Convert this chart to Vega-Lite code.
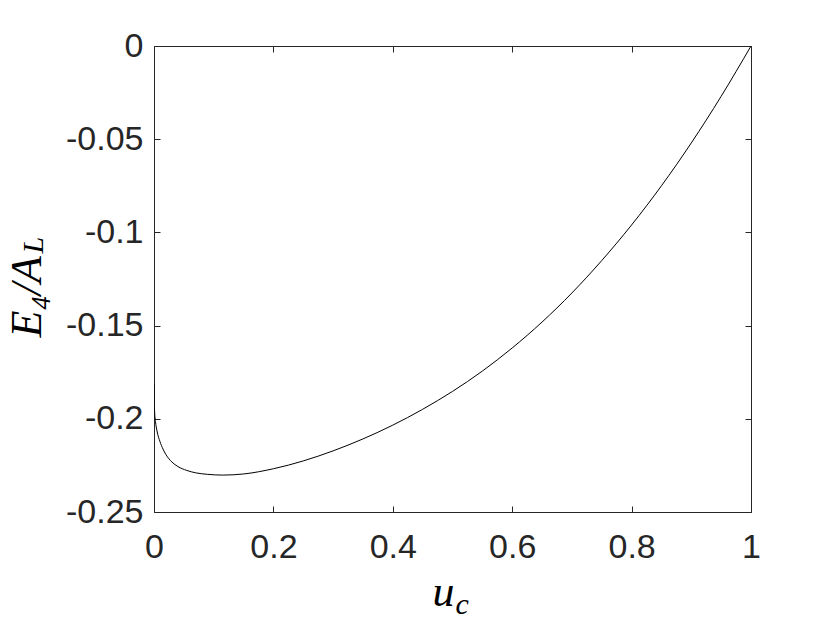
{
  "$schema": "https://vega.github.io/schema/vega-lite/v6.json",
  "autosize": {"type": "none"},
  "width": 597,
  "height": 466,
  "padding": {"left": 154, "top": 46, "right": 79, "bottom": 111},
  "background": "white",
  "config": {
    "view": {"stroke": null},
    "axis": {
      "grid": false,
      "domainColor": "#262626",
      "domainWidth": 1,
      "tickColor": "#262626",
      "tickWidth": 1,
      "tickSize": -6,
      "labelFont": "Liberation Sans",
      "labelFontSize": 34,
      "labelColor": "#262626",
      "titleFont": "Liberation Serif",
      "titleFontStyle": "italic",
      "titleFontWeight": "normal",
      "titleColor": "#000000"
    }
  },
  "data": {
    "values": [
      {"u": 0, "e": -0.181},
      {"u": 0.0003, "e": -0.190},
      {"u": 0.001, "e": -0.196},
      {"u": 0.0025, "e": -0.2015},
      {"u": 0.005, "e": -0.2065},
      {"u": 0.01, "e": -0.2122},
      {"u": 0.015, "e": -0.2162},
      {"u": 0.02, "e": -0.2192},
      {"u": 0.03, "e": -0.2232},
      {"u": 0.04, "e": -0.2256},
      {"u": 0.055, "e": -0.2277},
      {"u": 0.07, "e": -0.2290},
      {"u": 0.09, "e": -0.2298},
      {"u": 0.115, "e": -0.2302},
      {"u": 0.15, "e": -0.2296},
      {"u": 0.2, "e": -0.2268},
      {"u": 0.25, "e": -0.2226},
      {"u": 0.3, "e": -0.2172},
      {"u": 0.35, "e": -0.2108},
      {"u": 0.4, "e": -0.2034},
      {"u": 0.45, "e": -0.1949},
      {"u": 0.5, "e": -0.1853},
      {"u": 0.55, "e": -0.1744},
      {"u": 0.6, "e": -0.1620},
      {"u": 0.65, "e": -0.1481},
      {"u": 0.7, "e": -0.1325},
      {"u": 0.75, "e": -0.1151},
      {"u": 0.8, "e": -0.0960},
      {"u": 0.85, "e": -0.0750},
      {"u": 0.9, "e": -0.0520},
      {"u": 0.95, "e": -0.0270},
      {"u": 1.0, "e": 0}
    ]
  },
  "layer": [
    {
      "mark": {"type": "line", "color": "#000000", "strokeWidth": 1, "clip": true, "interpolate": "monotone"},
      "encoding": {
        "x": {
          "field": "u", "type": "quantitative",
          "scale": {"domain": [0, 1], "nice": false, "zero": false},
          "axis": {
            "orient": "bottom",
            "values": [0, 0.2, 0.4, 0.6, 0.8, 1],
            "labelExpr": "'' + datum.value",
            "labelPadding": 24,
            "labelBaseline": "top",
            "labelFlush": false,
            "title": "u",
            "titleFontSize": 44,
            "titleAlign": "left",
            "titleBaseline": "alphabetic",
            "titleAngle": 0,
            "titleX": 278,
            "titleY": 93
          }
        },
        "y": {
          "field": "e", "type": "quantitative",
          "scale": {"domain": [-0.25, 0], "nice": false, "zero": false},
          "axis": {
            "orient": "left",
            "values": [-0.25, -0.2, -0.15, -0.1, -0.05, 0],
            "labelExpr": "'' + datum.value",
            "labelPadding": 17,
            "labelBaseline": "middle",
            "labelFlush": false,
            "title": "E₄/A",
            "titleFontSize": 44,
            "titleAngle": -90,
            "titleAlign": "left",
            "titleBaseline": "alphabetic",
            "titleX": -114,
            "titleY": 291
          }
        }
      }
    },
    {
      "mark": {"type": "line", "color": "#000000", "strokeWidth": 1, "strokeOpacity": 0},
      "encoding": {
        "x": {
          "field": "u", "type": "quantitative",
          "scale": {"domain": [0, 1], "nice": false, "zero": false},
          "axis": {
            "orient": "top",
            "values": [0, 0.2, 0.4, 0.6, 0.8, 1],
            "labels": false,
            "title": "c",
            "titleFontSize": 30,
            "titleAlign": "left",
            "titleBaseline": "alphabetic",
            "titleAngle": 0,
            "titleX": 301,
            "titleY": 567
          }
        },
        "y": {
          "field": "e", "type": "quantitative",
          "scale": {"domain": [-0.25, 0], "nice": false, "zero": false},
          "axis": {
            "orient": "right",
            "values": [-0.25, -0.2, -0.15, -0.1, -0.05, 0],
            "labels": false,
            "title": "L",
            "titleFontSize": 30,
            "titleAngle": -90,
            "titleAlign": "left",
            "titleBaseline": "alphabetic",
            "titleX": -709,
            "titleY": 207
          }
        }
      }
    }
  ],
  "resolve": {"axis": {"x": "independent", "y": "independent"}}
}
